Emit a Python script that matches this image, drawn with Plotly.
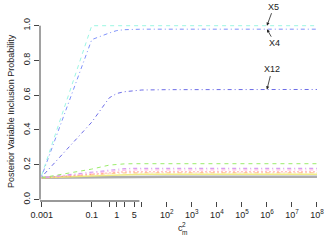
import plotly.graph_objects as go

# ---- data ----
c2 = [0.001, 0.1, 0.5, 1, 2, 5, 10, 1e2, 1e3, 1e4, 1e5, 1e6, 1e7, 1e8]

X5 = [0.14, 1.0, 1.0, 1.0, 1.0, 1.0, 1.0, 1.0, 1.0, 1.0, 1.0, 1.0, 1.0, 1.0]
X4 = [0.135, 0.92, 0.958, 0.972, 0.977, 0.979, 0.98, 0.98, 0.98, 0.98, 0.98, 0.98, 0.98, 0.98]
X12 = [0.13, 0.445, 0.585, 0.61, 0.62, 0.627, 0.63, 0.632, 0.633, 0.633, 0.633, 0.633, 0.633, 0.633]
Xg = [0.125, 0.175, 0.198, 0.203, 0.205, 0.206, 0.206, 0.206, 0.206, 0.206, 0.206, 0.206, 0.206, 0.206]
Xv = [0.125, 0.158, 0.172, 0.176, 0.178, 0.179, 0.179, 0.179, 0.179, 0.179, 0.179, 0.179, 0.179, 0.179]
Xp = [0.125, 0.152, 0.164, 0.168, 0.169, 0.17, 0.17, 0.17, 0.17, 0.17, 0.17, 0.17, 0.17, 0.17]
Xr = [0.125, 0.145, 0.155, 0.158, 0.159, 0.16, 0.16, 0.16, 0.16, 0.16, 0.16, 0.16, 0.16, 0.16]
Xo = [0.125, 0.14, 0.149, 0.152, 0.153, 0.154, 0.154, 0.154, 0.154, 0.154, 0.154, 0.154, 0.154, 0.154]
Xy = [0.125, 0.136, 0.142, 0.144, 0.145, 0.146, 0.146, 0.146, 0.146, 0.146, 0.146, 0.146, 0.146, 0.146]
Xgr = [0.125, 0.128, 0.13, 0.131, 0.131, 0.131, 0.131, 0.131, 0.131, 0.131, 0.131, 0.131, 0.131, 0.131]

DASH = "4px,4px"
DOTDASH = "1px,3px,4px,3px"
DOT = "1px,3px"
series = [
    ("gray", Xgr, "rgba(165,165,165,0.9)", "solid", 2.5),
    ("yellow", Xy, "rgba(240,235,120,0.9)", "solid", 1.5),
    ("orange", Xo, "rgba(255,195,130,0.9)", DOTDASH, 1.2),
    ("red", Xr, "rgba(255,110,110,0.8)", DOT, 1.4),
    ("pink", Xp, "rgba(255,180,225,0.9)", DOTDASH, 1.2),
    ("violet", Xv, "rgba(210,150,240,0.9)", DOTDASH, 1.2),
    ("green", Xg, "rgba(150,235,100,0.95)", DASH, 1.0),
    ("X12", X12, "rgba(100,100,230,0.95)", DOTDASH, 1.0),
    ("X4", X4, "rgba(120,140,250,0.95)", DOTDASH, 1.0),
    ("X5", X5, "rgba(150,245,225,0.95)", DASH, 1.0),
]

xtickvals = [0.001, 0.1, 1, 5, 1e2, 1e3, 1e4, 1e5, 1e6, 1e7, 1e8]
xticktext = ["0.001", "0.1", "1", "5",
             "10<sup>2</sup>", "10<sup>3</sup>", "10<sup>4</sup>", "10<sup>5</sup>",
             "10<sup>6</sup>", "10<sup>7</sup>", "10<sup>8</sup>"]
xminorvals = [0.5, 2, 10]
ytickvals = [0, 0.2, 0.4, 0.6, 0.8, 1.0]
yticktext = ["0.0", "0.2", "0.4", "0.6", "0.8", "1.0"]

FONT = "Liberation Sans, Arial, Helvetica, sans-serif"

fig = go.Figure()
for name, vals, col, dash, w in series:
    fig.add_trace(go.Scatter(x=c2, y=vals, mode="lines", name=name,
                             line=dict(color=col, dash=dash, width=w)))

fig.update_layout(
    width=331, height=242,
    margin=dict(l=40, r=5, t=20, b=41, autoexpand=False),
    paper_bgcolor="white", plot_bgcolor="white",
    showlegend=False,
    font=dict(family=FONT, size=9, color="#222"),
    xaxis=dict(type="log", range=[-3.068, 8.36], showgrid=False, zeroline=False,
               showline=False, tickvals=xtickvals, ticktext=xticktext,
               ticks="outside", ticklen=5, tickcolor="#444", tickwidth=1,
               tickfont=dict(size=9), automargin=False,
               minor=dict(tickvals=xminorvals, ticks="outside", ticklen=5,
                          tickcolor="#444", tickwidth=1, showgrid=False)),
    yaxis=dict(range=[-0.0086, 1.0328], showgrid=False, zeroline=False,
               showline=False, tickvals=ytickvals, ticktext=yticktext,
               ticks="outside", ticklen=5, tickcolor="#444", tickwidth=1,
               tickangle=-90, tickfont=dict(size=9), automargin=False),
)

# axis lines spanning tick range (R style)
fig.add_shape(type="line", xref="x domain", yref="y", x0=0, x1=0, y0=0, y1=1,
              line=dict(color="#444", width=1))
fig.add_shape(type="line", xref="x", yref="y domain", x0=-3, x1=8, y0=0, y1=0,
              line=dict(color="#777", width=1.5))

# axis titles
fig.add_annotation(text="Posterior Variable Inclusion Probability", xref="paper", yref="y",
                   x=-0.125, y=0.51, textangle=-90, showarrow=False,
                   font=dict(size=9, color="#222"))
fig.add_annotation(text="c", xref="paper", yref="paper", x=(180 - 40) / 286, y=-(235 - 201) / 181,
                   showarrow=False, font=dict(size=9, color="#222"))
fig.add_annotation(text="2", xref="paper", yref="paper", x=(183.5 - 40) / 286, y=-(230 - 201) / 181,
                   showarrow=False, font=dict(size=6.5, color="#222"))
fig.add_annotation(text="m", xref="paper", yref="paper", x=(184.5 - 40) / 286, y=-(237.5 - 201) / 181,
                   showarrow=False, font=dict(size=6.5, color="#222"))

# labels with arrows
for txt, yv, ax, ay in [("X5", 1.0, 7, -19), ("X4", 0.98, 8, 14), ("X12", 0.633, 5, -20)]:
    fig.add_annotation(text=txt, x=6, y=yv, xref="x", yref="y", ax=ax, ay=ay,
                       showarrow=True, arrowhead=2, arrowsize=0.8, arrowwidth=0.8,
                       arrowcolor="#222", font=dict(size=9, color="#222"))

fig.write_html("out.html", config={"displayModeBar": False},
               post_script="document.body.style.margin='0';document.body.style.padding='0';")
